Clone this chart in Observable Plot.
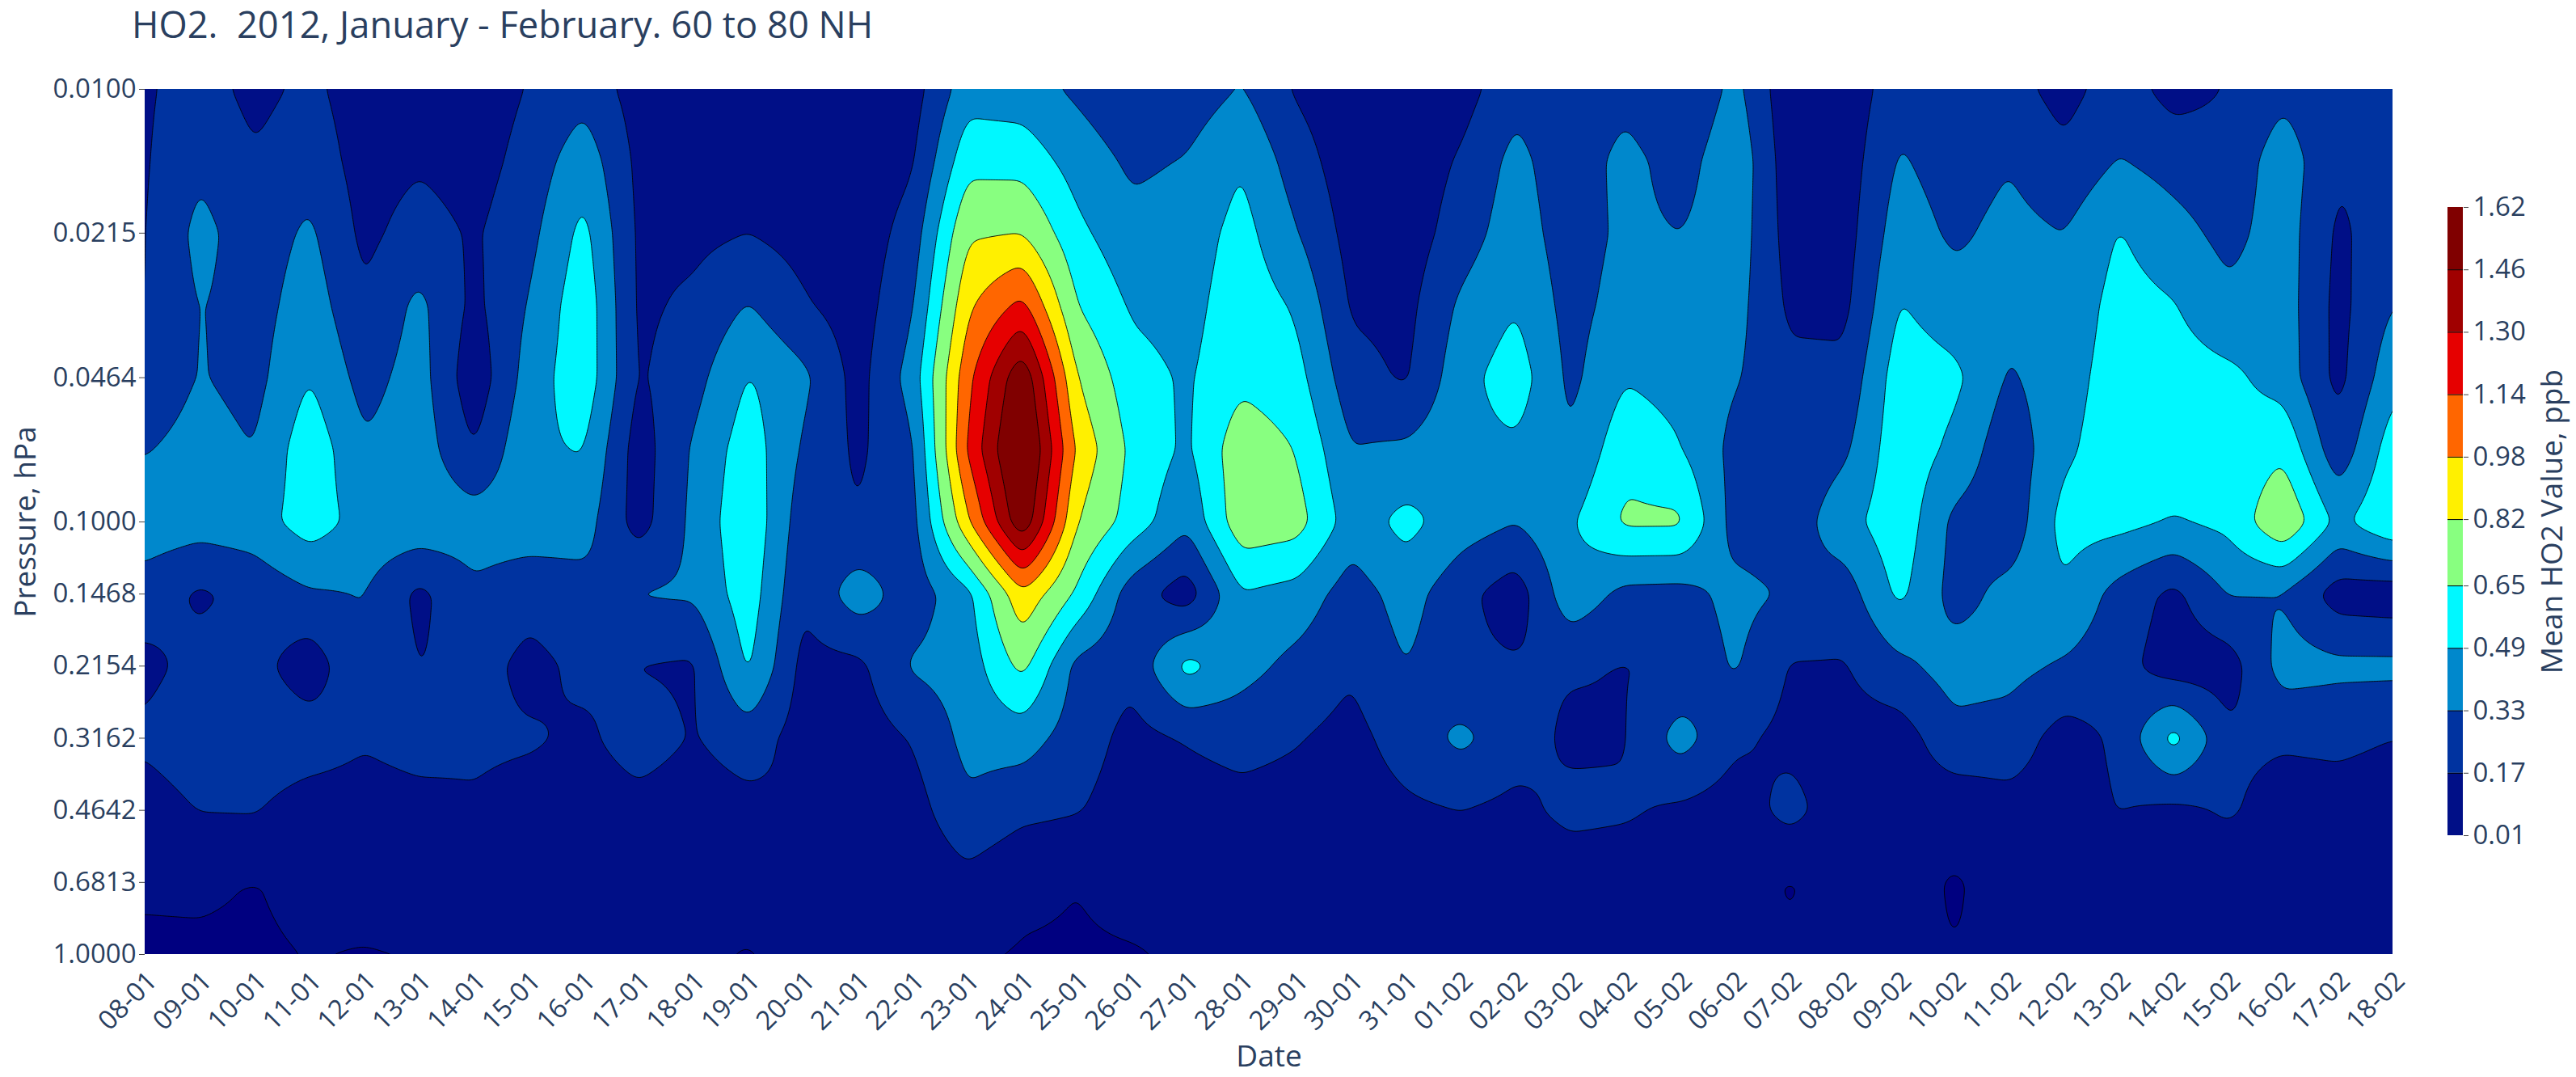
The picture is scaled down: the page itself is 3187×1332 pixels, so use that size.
<!DOCTYPE html>
<html><head><meta charset="utf-8">
<script src="https://cdn.jsdelivr.net/npm/d3@7"></script>
<script src="https://cdn.jsdelivr.net/npm/@observablehq/plot@0.6"></script>
<style>
html,body{margin:0;padding:0;background:#fff;}
#page{position:relative;width:3187px;height:1332px;overflow:hidden;font-family:"Open Sans",sans-serif;color:#2a3f5f;}
#title{position:absolute;left:163px;top:-1px;font-size:45.3px;line-height:62px;white-space:pre;}
#main,#bar{position:absolute;top:0;}
#main{left:0}#bar{left:3000px}
</style></head><body>
<div id="page"><div id="title">HO2.  2012, January - February. 60 to 80 NH</div><div id="main"></div><div id="bar"></div></div>
<script>
const dates=["08-01","09-01","10-01","11-01","12-01","13-01","14-01","15-01","16-01","17-01","18-01","19-01","20-01","21-01","22-01","23-01","24-01","25-01","26-01","27-01","28-01","29-01","30-01","31-01","01-02","02-02","03-02","04-02","05-02","06-02","07-02","08-02","09-02","10-02","11-02","12-02","13-02","14-02","15-02","16-02","17-02","18-02"];
const pressure=[0.01,0.0147,0.0215,0.0316,0.0464,0.0681,0.1,0.1468,0.2154,0.3162,0.4642,0.6813,1];
const pressureTicks=[0.01,0.0215,0.0464,0.1,0.1468,0.2154,0.3162,0.4642,0.6813,1];
const levels=[0.01,0.17,0.33,0.49,0.65,0.82,0.98,1.14,1.30,1.46,1.62];
const colors=["#000f87","#0033a0","#0088cc","#00f8ff","#88ff80","#fff000","#ff6600","#e60000","#a00000","#800000"];
const belowColor="#000080";
// mean HO2, one row per date, one value per pressure level
const ho2=[
[.15,.155,.16,.165,.22,.32,.43,.25,.13,.20,.10,.018,0],
[.24,.30,.38,.34,.34,.39,.40,.145,.22,.26,.175,.02,0],
[.12,.19,.24,.26,.28,.33,.42,.22,.23,.27,.18,.008,0],
[.21,.27,.36,.42,.49,.60,.57,.31,.07,.26,.09,.03,.012],
[.08,.10,.13,.19,.27,.35,.43,.335,.33,.19,.09,.04,.006],
[.08,.15,.24,.37,.40,.42,.44,.13,.165,.24,.11,.05,.012],
[.07,.10,.15,.13,.06,.17,.41,.30,.24,.20,.15,.06,.02],
[.18,.23,.28,.34,.40,.46,.42,.23,.12,.19,.10,.05,.02],
[.27,.43,.54,.60,.60,.50,.40,.27,.21,.14,.09,.05,.02],
[.10,.13,.14,.14,.15,.09,.10,.34,.165,.24,.12,.05,.02],
[.06,.08,.13,.20,.27,.35,.37,.35,.15,.16,.09,.04,.02],
[.05,.09,.17,.34,.50,.58,.62,.58,.52,.25,.12,.04,.006],
[.06,.07,.11,.19,.37,.31,.24,.19,.12,.10,.175,.05,.03],
[.05,.06,.07,.09,.11,.14,.18,.42,.13,.09,.06,.04,.02],
[.10,.15,.24,.31,.40,.30,.27,.24,.35,.18,.10,.04,.02],
[.42,.60,.80,.95,1.09,1.16,.95,.44,.40,.38,.30,.12,.02],
[.40,.59,.82,1.19,1.60,1.72,1.60,.95,.70,.40,.21,.03,.003],
[.30,.42,.53,.65,.82,.95,.82,.62,.28,.25,.18,.012,0],
[.20,.30,.38,.47,.55,.61,.58,.24,.21,.12,.09,.04,.004],
[.24,.34,.40,.43,.47,.46,.36,.08,.55,.18,.10,.05,.02],
[.34,.48,.55,.59,.61,.76,.76,.48,.39,.22,.12,.06,.02],
[.15,.25,.34,.47,.55,.645,.72,.43,.28,.18,.11,.05,.02],
[.05,.07,.11,.15,.23,.335,.41,.25,.19,.12,.09,.05,.02],
[.05,.06,.08,.12,.15,.36,.54,.40,.33,.24,.14,.06,.02],
[.10,.19,.25,.36,.43,.45,.41,.22,.20,.37,.17,.07,.02],
[.28,.38,.42,.48,.58,.46,.335,.08,.19,.24,.13,.05,.02],
[.20,.22,.24,.27,.29,.345,.47,.44,.185,.14,.21,.08,.02],
[.27,.39,.37,.40,.48,.60,.68,.28,.165,.16,.19,.08,.02],
[.155,.25,.33,.38,.43,.50,.68,.27,.20,.40,.14,.07,.02],
[.38,.46,.43,.39,.345,.28,.26,.38,.35,.20,.09,.05,.02],
[.05,.07,.10,.14,.21,.22,.24,.31,.16,.13,.22,.003,.02],
[.06,.08,.10,.13,.21,.30,.43,.25,.16,.11,.08,.05,.02],
[.27,.35,.42,.50,.58,.60,.60,.53,.29,.09,.09,.05,.02],
[.22,.25,.30,.40,.53,.45,.29,.27,.40,.28,.06,0,.013],
[.23,.32,.38,.38,.31,.22,.22,.38,.38,.26,.11,.05,.02],
[.11,.21,.33,.38,.42,.46,.55,.47,.31,.10,.09,.05,.02],
[.25,.34,.50,.55,.57,.58,.54,.27,.23,.20,.175,.06,.02],
[.11,.27,.39,.50,.56,.57,.48,.13,.08,.56,.13,.05,.02],
[.18,.22,.28,.37,.53,.54,.53,.34,.09,.20,.19,.06,.02],
[.29,.42,.41,.41,.42,.62,.80,.32,.40,.19,.10,.05,.02],
[.20,.19,.14,.12,.12,.22,.45,.09,.37,.20,.11,.05,.02],
[.20,.22,.26,.33,.44,.58,.64,.07,.37,.17,.10,.05,.02]
];
const nRows=pressure.length;
const table=ho2.flatMap((col,i)=>col.map((v,j)=>({day:i,p:pressure[j],v})));
const font={fontFamily:"'Open Sans',sans-serif",fontSize:"33px",color:"#2a3f5f",background:"transparent",overflow:"visible"};

// spreads the read grid over Plot's raster: each sample is weighted by its four neighbours
function gridInterpolate(index,w,h,X,Y,V){
  const out=new Float64Array(w*h);
  const nCols=index.length/nRows;
  const x0=X[index[0]],dx=(X[index[(nCols-1)*nRows]]-x0)/(nCols-1);
  const y0=Y[index[0]],dy=(Y[index[nRows-1]]-y0)/(nRows-1);
  const at=(c,r)=>V[index[c*nRows+r]];
  for(let py=0;py<h;py++){
    const fy=Math.max(0,Math.min(nRows-1.000001,(py+.5-y0)/dy));
    const r=Math.floor(fy),ty=fy-r;
    for(let px=0;px<w;px++){
      const fx=Math.max(0,Math.min(nCols-1.000001,(px+.5-x0)/dx));
      const c=Math.floor(fx),tx=fx-c;
      out[py*w+px]=(1-tx)*((1-ty)*at(c,r)+ty*at(c,r+1))+tx*((1-ty)*at(c+1,r)+ty*at(c+1,r+1));
    }
  }
  return out;
}

const main=Plot.plot({
  width:3187,height:1332,marginLeft:179,marginRight:227,marginTop:110,marginBottom:152,
  style:font,
  x:{domain:[0,dates.length-1]},
  y:{type:"log",domain:[0.01,1],reverse:true},
  color:{type:"threshold",domain:levels.slice(0,-1),range:[belowColor,...colors]},
  marks:[
    Plot.contour(table,{x:"day",y:"p",fill:"v",thresholds:[-1,...levels.slice(0,-1)],
      x1:-0.25,x2:dates.length-0.75,y1:0.0095,y2:1.06,interpolate:gridInterpolate,pixelSize:2,blur:3,
      stroke:"#000",strokeWidth:0.9,clip:"frame"}),
    Plot.axisX(d3.range(dates.length),{tickSize:0,tickRotate:-45,tickPadding:18,tickFormat:i=>dates[i],label:null,color:"#2a3f5f",lineAnchor:"top"}),
    Plot.axisY(pressureTicks,{tickSize:7,tickPadding:4,tickFormat:d=>d.toFixed(4),stroke:"#444",label:null,fill:"#2a3f5f"}),
    Plot.text(["Date"],{frameAnchor:"bottom",dy:138,fontSize:37,fill:"#2a3f5f",text:d=>d}),
    Plot.text(["Pressure, hPa"],{frameAnchor:"left",textAnchor:"middle",dx:-147,rotate:-90,fontSize:37,fill:"#2a3f5f",text:d=>d})
  ]
});
document.getElementById("main").append(main);

const bands=colors.map((c,i)=>({y1:levels[i],y2:levels[i+1],c}));
const bar=Plot.plot({
  width:187,height:1332,marginLeft:28,marginRight:140,marginTop:256,marginBottom:299,
  style:font,
  x:{domain:[0,1],axis:null},
  y:{domain:[levels[0],levels[levels.length-1]],axis:null},
  marks:[
    Plot.rect(bands,{x1:0,x2:1,y1:"y1",y2:"y2",fill:d=>d.c}),
    Plot.ruleY(levels.slice(1,-1),{x1:0,x2:1,stroke:"#000",strokeWidth:1}),
    Plot.axisY(levels,{anchor:"right",tickSize:6,tickPadding:6,tickFormat:d=>d.toFixed(2),stroke:"#444",label:null,fill:"#2a3f5f"}),
    Plot.text(["Mean HO2 Value, ppb"],{frameAnchor:"right",textAnchor:"middle",dx:111,rotate:-90,fontSize:37,fill:"#2a3f5f",text:d=>d})
  ]
});
document.getElementById("bar").append(bar);
</script></body></html>
